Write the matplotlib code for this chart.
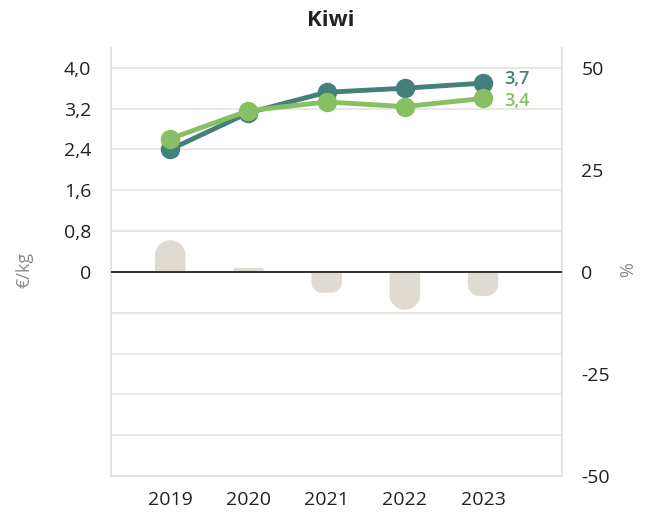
import numpy as np
import matplotlib
matplotlib.use("Agg")
import matplotlib.pyplot as plt
from matplotlib.path import Path
from matplotlib.patches import PathPatch

plt.rcParams['font.family'] = ['Open Sans', 'DejaVu Sans']

years = ['2019', '2020', '2021', '2022', '2023']
price_a = [2.4, 3.12, 3.52, 3.6, 3.7]    # teal series, €/kg
price_b = [2.61, 3.16, 3.33, 3.24, 3.4]  # green series, €/kg
change_pct = [7.8, 1.0, -5.1, -9.3, -5.9]  # yearly change, %

teal = '#437f7b'
green = '#86c063'
beige = '#e0dbd2'
grid_col = '#e7e2d9'
text_col = '#222222'

fig = plt.figure(figsize=(6.52, 5.15), dpi=100)
ax = fig.add_axes([0.170, 0.0757, 0.692, 0.8313])
ax2 = ax.twinx()

x = np.arange(len(years))
XLIM = (-0.76, 5.01)
ax.set_xlim(*XLIM)
ax.set_ylim(-4.0, 4.39)
ax2.set_ylim(-50, 54.9)
ax.set_autoscale_on(False)
ax2.set_autoscale_on(False)


def rounded_bar(axis, xc, h, w):
    # bar whose far end is rounded; corner radius capped at half its length
    trans = axis.transData
    p0 = trans.transform((0, 0))
    p1 = trans.transform((1, 1))
    px_x = abs(p1[0] - p0[0])
    px_y = abs(p1[1] - p0[1])
    w_px = w * px_x
    r_px = min(w_px / 2, abs(h) * px_y / 2)
    rx = r_px / px_x
    ry = np.sign(h) * r_px / px_y
    k = 0.5523
    l, r = xc - w / 2, xc + w / 2
    verts = [
        (l, 0), (l, h - ry),
        (l, h - ry + k * ry), (l + rx - k * rx, h), (l + rx, h),
        (r - rx, h),
        (r - rx + k * rx, h), (r, h - ry + k * ry), (r, h - ry),
        (r, 0), (l, 0),
    ]
    codes = [Path.MOVETO, Path.LINETO,
             Path.CURVE4, Path.CURVE4, Path.CURVE4,
             Path.LINETO,
             Path.CURVE4, Path.CURVE4, Path.CURVE4,
             Path.LINETO, Path.CLOSEPOLY]
    axis.add_patch(PathPatch(Path(verts, codes), facecolor=beige,
                             edgecolor='none', zorder=1))


for xi, v in zip(x, change_pct):
    rounded_bar(ax2, xi, v, 0.39)

# price lines sit above the bars
ax.set_zorder(ax2.get_zorder() + 1)
ax.patch.set_visible(False)

ax.plot(x, price_a, color=teal, lw=3.5, marker='o', ms=13, zorder=4,
        solid_capstyle='round')
ax.plot(x, price_b, color=green, lw=3.5, marker='o', ms=13, zorder=5,
        solid_capstyle='round')
ax.annotate('3,7', (x[-1], price_a[-1]), xytext=(15, 3),
            textcoords='offset points', color=teal, fontsize=13,
            fontweight='semibold', va='center', ha='left')
ax.annotate('3,4', (x[-1], price_b[-1]), xytext=(15, -2),
            textcoords='offset points', color=green, fontsize=13,
            fontweight='semibold', va='center', ha='left')

ax.axhline(0, color='#222222', lw=1.3, zorder=3)

# left axis: grid every 0.8, labels only for non-negative values
grid_ticks = np.round(np.arange(-4.0, 4.01, 0.8), 1)
ax.set_yticks(grid_ticks)
ax.set_yticklabels(['' if t < 0 else ('0' if t == 0 else f'{t:.1f}'.replace('.', ','))
                    for t in grid_ticks])
ax.yaxis.grid(True, color=grid_col, lw=1.2)
ax.set_axisbelow(True)
ax.tick_params(axis='y', length=0, pad=14, labelsize=14, labelcolor=text_col)

ax.set_xticks(x)
ax.set_xticklabels(years)
ax.tick_params(axis='x', length=0, pad=11, labelsize=14, labelcolor=text_col)

ax2.set_yticks([-50, -25, 0, 25, 50])
ax2.set_yticklabels(['-50', '-25', '0', '25', '50'])
ax2.tick_params(axis='y', length=0, pad=14, labelsize=14, labelcolor=text_col)

for a in (ax, ax2):
    for side in ('top', 'bottom'):
        a.spines[side].set_visible(False)
    for side in ('left', 'right'):
        a.spines[side].set_color(grid_col)
        a.spines[side].set_linewidth(1.2)
ax.spines['bottom'].set_visible(True)
ax.spines['bottom'].set_color(grid_col)
ax.spines['bottom'].set_linewidth(1.2)

ax.set_xlim(*XLIM)

fig.text(0.038, 0.476, '€/kg', rotation=90, color='#8a8a8a', fontsize=13,
         ha='center', va='center')
fig.text(0.963, 0.476, '%', rotation=90, color='#8a8a8a', fontsize=13,
         ha='center', va='center')
fig.text(0.507, 0.961, 'Kiwi', fontsize=16, fontweight='bold', color=text_col,
         ha='center', va='center')

fig.savefig('out.png', dpi=100)
